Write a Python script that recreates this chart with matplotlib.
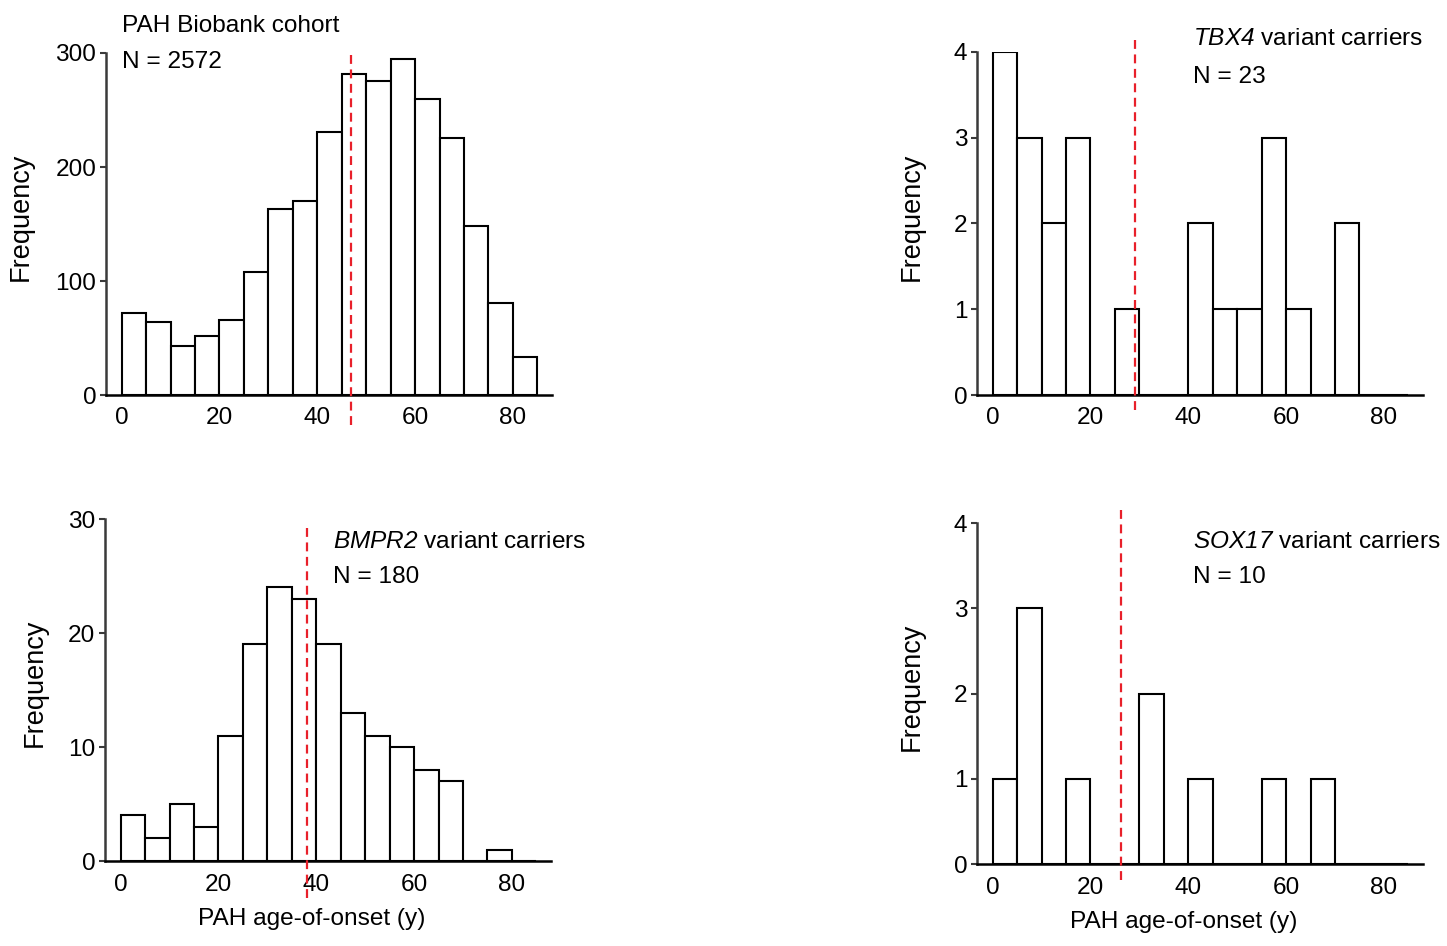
import numpy as np
import matplotlib
matplotlib.use("Agg")
import matplotlib.pyplot as plt
from matplotlib.transforms import blended_transform_factory

plt.rcParams['font.family'] = ['Liberation Sans', 'DejaVu Sans']
plt.rcParams['mathtext.fontset'] = 'custom'
plt.rcParams['mathtext.it'] = 'Liberation Sans:italic'
plt.rcParams['mathtext.rm'] = 'Liberation Sans:italic'

# Bin edges (age-of-onset, years) – 5-year bins
bin_edges = [0, 5, 10, 15, 20, 25, 30, 35, 40, 45, 50, 55, 60, 65, 70, 75, 80, 85]

# Frequencies per bin
cohort_counts = [72, 64, 43, 52, 66, 108, 163, 170, 231, 282, 275, 295, 260, 225, 148, 81, 33]
tbx4_counts = [4, 3, 2, 3, 0, 1, 0, 0, 2, 1, 1, 3, 1, 0, 2, 0, 0]
bmpr2_counts = [4, 2, 5, 3, 11, 19, 24, 23, 19, 13, 11, 10, 8, 7, 0, 1, 0]
sox17_counts = [1, 3, 0, 1, 0, 0, 2, 0, 1, 0, 0, 1, 0, 1, 0, 0, 0]

# Median age-of-onset (red dashed lines)
medians = [46.9, 29.1, 38.1, 26.2]

titles = ["PAH Biobank cohort", r"$\mathrm{TBX4}$ variant carriers",
          r"$\mathrm{BMPR2}$ variant carriers", r"$\mathrm{SOX17}$ variant carriers"]
n_labels = ["N = 2572", "N = 23", "N = 180", "N = 10"]
y_ticks = [[0, 100, 200, 300], [0, 1, 2, 3, 4], [0, 10, 20, 30], [0, 1, 2, 3, 4]]
x_ticks = [0, 20, 40, 60, 80]

W, H = 1447, 946
fig = plt.figure(figsize=(W / 100, H / 100), dpi=100)

def px_axes(left, top, right, bottom):
    return fig.add_axes([left / W, 1 - bottom / H, (right - left) / W, (bottom - top) / H])

axes_px = [(106, 53, 552, 395), (977, 52, 1423, 395), (105, 519, 551, 861), (977, 523, 1423, 864)]
counts_all = [cohort_counts, tbx4_counts, bmpr2_counts, sox17_counts]
text_pos = [(0, 1.079, 0.973), (41, 1.038, 0.927), (43.4, 0.933, 0.830), (41, 0.944, 0.841)]
ylabel_x = [-0.161, -0.117, -0.128, -0.117]
red_extent = [(-0.088, 1.01), (-0.044, 1.035), (-0.108, 0.974), (-0.047, 1.044)]

FS = 17.6
YL_FS = 19.5
spine_col = "#3a3a3a"

for i, (counts, box) in enumerate(zip(counts_all, axes_px)):
    ax = px_axes(*box)
    edges = np.array(bin_edges, dtype=float)
    ax.bar(edges[:-1], counts, width=np.diff(edges), align='edge',
           facecolor='white', edgecolor='black', linewidth=1.5, zorder=2)
    ax.set_xlim(-3.2, 88)
    ax.set_ylim(0, y_ticks[i][-1])
    ax.set_yticks(y_ticks[i])
    ax.set_xticks(x_ticks)
    for s in ['top', 'right']:
        ax.spines[s].set_visible(False)
    ax.spines['left'].set_linewidth(1.8)
    ax.spines['left'].set_color(spine_col)
    ax.spines['bottom'].set_linewidth(1.8)
    ax.spines['bottom'].set_color('black')
    ax.spines['bottom'].set_zorder(3)
    ax.tick_params(axis='y', length=4, width=1.5, color=spine_col, pad=3, labelsize=FS)
    ax.tick_params(axis='x', length=0, pad=9, labelsize=FS)
    ax.set_ylabel("Frequency", fontsize=YL_FS)
    ax.yaxis.set_label_coords(ylabel_x[i], 0.52)
    if i >= 2:
        ax.set_xlabel("PAH age-of-onset (y)", fontsize=FS)
        ax.xaxis.set_label_coords((39 + 3.2) / 91.2, -0.138)
    trans = blended_transform_factory(ax.transData, ax.transAxes)
    tx, ty1, ty2 = text_pos[i]
    ax.text(tx, ty1, titles[i], transform=trans, fontsize=FS, va='center', ha='left')
    ax.text(tx, ty2, n_labels[i], transform=trans, fontsize=FS, va='center', ha='left')
    ymin, ymax = red_extent[i]
    ax.axvline(medians[i], ymin=ymin, ymax=ymax, color='#e8202a', linestyle=(0, (4, 2.5)),
               linewidth=1.6, clip_on=False, zorder=4)

fig.savefig("out.png", dpi=100)
